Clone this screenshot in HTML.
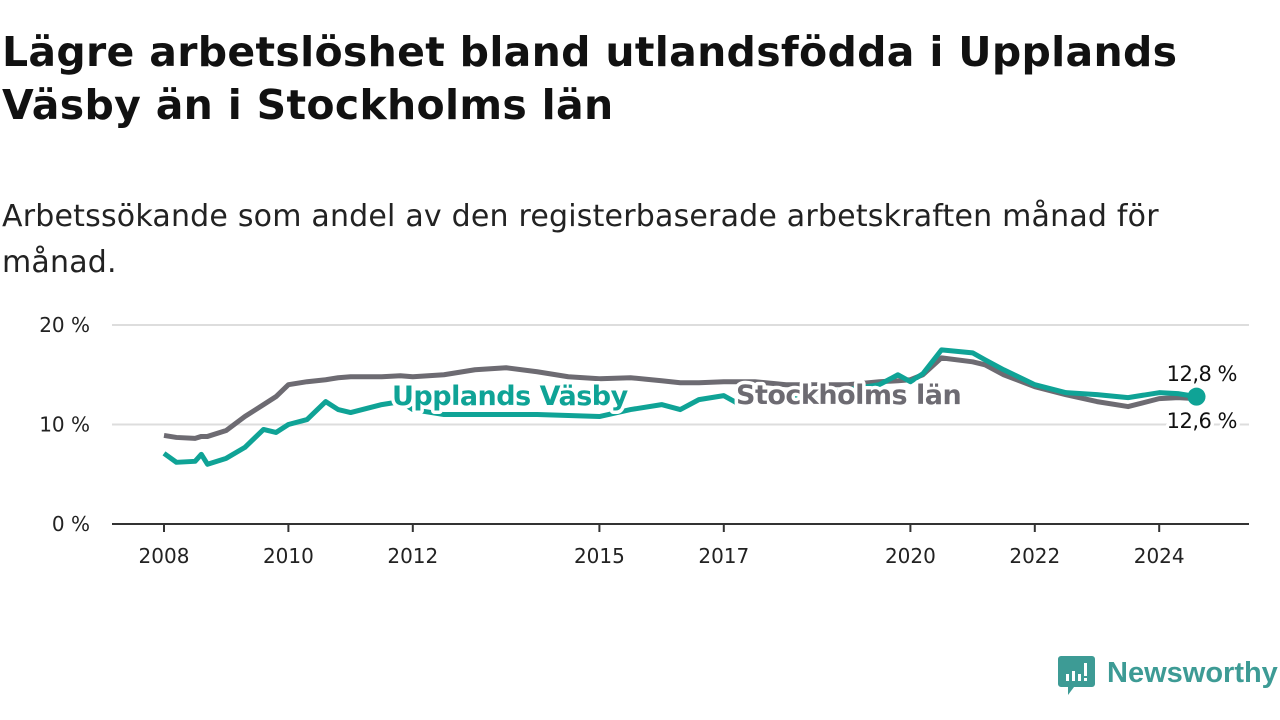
<!DOCTYPE html>
<html><head><meta charset="utf-8">
<style>
body{margin:0;width:1280px;height:720px;background:#fff;font-family:"DejaVu Sans","Liberation Sans",sans-serif;overflow:hidden;position:relative}
h1{position:absolute;left:2px;top:26px;margin:0;font-size:41px;line-height:53px;font-weight:bold;color:#111;width:1215px;letter-spacing:0.3px}
.sub{position:absolute;left:2px;top:194px;font-size:30px;line-height:46px;color:#222;width:1180px;letter-spacing:0.2px}
svg{position:absolute;left:0;top:0}
</style></head><body>
<h1>Lägre arbetslöshet bland utlandsfödda i Upplands Väsby än i Stockholms län</h1>
<div class="sub">Arbetssökande som andel av den registerbaserade arbetskraften månad för månad.</div>
<svg width="1280" height="720" id="chart" font-family="DejaVu Sans, sans-serif">
<g>
<path d="M1061 656 h31 a3 3 0 0 1 3 3 v25 a3 3 0 0 1 -3 3 h-18 l-6 8 v-8 h-7 a3 3 0 0 1 -3 -3 v-25 a3 3 0 0 1 3 -3z" fill="#3d9b95"/>
<rect x="1066" y="674" width="3" height="7" fill="#fff"/><rect x="1072" y="671" width="3" height="10" fill="#fff"/><rect x="1078" y="674" width="3" height="7" fill="#fff"/><rect x="1084" y="663" width="3" height="13" fill="#fff"/><rect x="1084" y="678" width="3" height="3" fill="#fff"/>
<text x="1107" y="682" font-size="29" font-weight="bold" fill="#3d9b95" font-family="Liberation Sans, sans-serif">Newsworthy</text>
</g>
</svg>
<script>
const yTicks=[0,10,20];
const xTicks=[2008,2010,2012,2015,2017,2020,2022,2024];
const dates=[2008,2008.2,2008.5,2008.6,2008.7,2009,2009.3,2009.6,2009.8,2010,2010.3,2010.6,2010.8,2011,2011.5,2011.8,2012,2012.5,2013,2013.5,2014,2014.5,2015,2015.5,2016,2016.3,2016.6,2017,2017.2,2017.5,2018,2018.5,2019,2019.5,2019.8,2020,2020.2,2020.5,2021,2021.2,2021.5,2022,2022.5,2023,2023.5,2024,2024.3,2024.6];
const vasby=[7.1,6.2,6.3,7.0,6.0,6.6,7.7,9.5,9.2,10.0,10.5,12.3,11.5,11.2,12.0,12.3,11.5,11.0,11.0,11.0,11.0,10.9,10.8,11.5,12.0,11.5,12.5,12.9,12.2,12.5,12.6,13.0,13.5,14.0,15.0,14.3,15.1,17.5,17.2,16.5,15.5,14.0,13.2,13.0,12.7,13.2,13.1,12.8];
const sthlm=[8.9,8.7,8.6,8.8,8.8,9.4,10.8,12.0,12.8,14.0,14.3,14.5,14.7,14.8,14.8,14.9,14.8,15.0,15.5,15.7,15.3,14.8,14.6,14.7,14.4,14.2,14.2,14.3,14.3,14.3,14.0,14.0,14.0,14.3,14.4,14.5,15.0,16.7,16.3,16.0,15.0,13.8,13.0,12.3,11.8,12.6,12.7,12.6];
const NS="http://www.w3.org/2000/svg",svg=document.getElementById('chart');
const X=d=>164+(d-2008)*62.2, Y=v=>524-v*9.95;
function mk(t,a){const e=document.createElementNS(NS,t);for(const k in a)e.setAttribute(k,a[k]);svg.appendChild(e);return e;}
yTicks.forEach(v=>{
 const l=mk('line',{x1:112,x2:1249,y1:Y(v),y2:Y(v),stroke:v?'#ddd':'#333','stroke-width':2});
 
 
 const t=mk('text',{x:90,y:Y(v)+7,'text-anchor':'end','font-size':20,fill:'#222'});t.textContent=v+' %';
 
 
});
xTicks.forEach(v=>{
 const l=mk('line',{x1:X(v),x2:X(v),y1:524,y2:532,stroke:'#333','stroke-width':2});
 
 
 const t=mk('text',{x:X(v),y:563,'text-anchor':'middle','font-size':20,fill:'#222'});t.textContent=v;
 
 
});
function line(vals,c,n){const p=mk('polyline',{points:dates.map((d,i)=>X(d)+','+Y(vals[i])).join(' '),fill:'none',stroke:c,'stroke-width':5,'stroke-linejoin':'round'});
 
 }
line(sthlm,'#6d6b72','stockholm-line');
line(vasby,'#0fa396','vasby-line');
const last=dates.length-1;
const dot=mk('circle',{cx:X(dates[last]),cy:Y(vasby[last]),r:9,fill:'#0fa396'});


function lab(x,y,s,c,n,fs,fw,anc){const t=mk('text',{x:x,y:y,'font-size':fs,'font-weight':fw,fill:c,stroke:'#fff','stroke-width':7,'paint-order':'stroke','stroke-linejoin':'round','text-anchor':anc||'start','letter-spacing':'-0.5'});t.textContent=s;
 
 }
lab(392,405,'Upplands Väsby','#0fa396','vasby-label',27,'bold');
lab(736,404,'Stockholms län','#6d6b72','stockholm-label',27,'bold');
lab(1237,381,'12,8 %','#111','vasby-end-value',21,'normal','end');
lab(1237,428,'12,6 %','#111','stockholm-end-value',21,'normal','end');
</script>
</body></html>
